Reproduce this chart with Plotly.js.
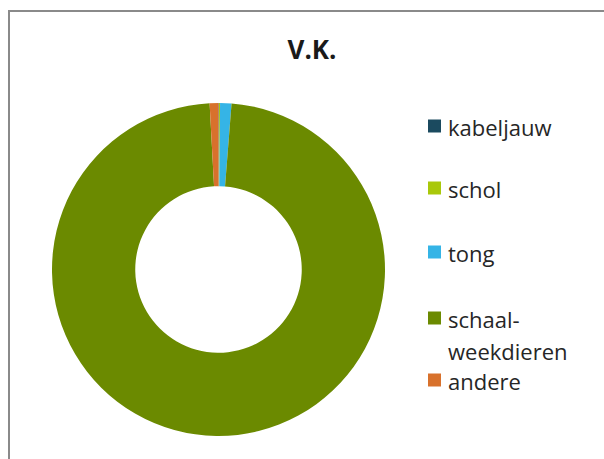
<!DOCTYPE html>
<html>
<head>
<meta charset="utf-8">
<script src="https://cdn.plot.ly/plotly-3.0.1.min.js"></script>
<style>html,body{margin:0;padding:0;background:#fff;}#chart{width:604px;height:459px;}</style>
</head>
<body>
<div id="chart"></div>
<script>
// Data (share of catch, %)
const categories = ["kabeljauw", "schol", "tong", "schaal-weekdieren", "andere"];
const values = [0.05, 0.1, 1.1, 97.9, 0.85];
const colors = ["#1b4a5f", "#a9c80a", "#35b4e6", "#6b8a00", "#d8712c"];
const chartTitle = "V.K.";

const W = 604, H = 459;
const px = x => x / W;
const py = y => 1 - y / H;

const font = "'Open Sans', 'Noto Sans', sans-serif";

const trace = {
  type: "pie",
  labels: categories,
  values: values,
  marker: { colors: colors, line: { width: 0 } },
  hole: 0.5,
  sort: false,
  direction: "clockwise",
  rotation: 0,
  textinfo: "none",
  hoverinfo: "label+value",
  showlegend: false,
  domain: { x: [px(52), px(385)], y: [py(436), py(103)] }
};

// Manual legend (Excel-style spacing), built from the category arrays
const legendRows = [[127], [189], [253], [319, 351], [381]];
const annotations = [];
const shapes = [
  { type: "rect", xref: "paper", yref: "paper", x0: px(9), x1: 1.05, y0: -0.05, y1: py(11),
    line: { color: "#8a8a8a", width: 2 }, fillcolor: "rgba(0,0,0,0)" }
];
categories.forEach((c, i) => {
  const parts = c.includes("-") ? [c.slice(0, c.indexOf("-") + 1), c.slice(c.indexOf("-") + 1)] : [c];
  const rows = legendRows[i];
  parts.forEach((p, j) => {
    annotations.push({
      xref: "paper", yref: "paper", x: px(446), y: py(rows[j]),
      xanchor: "left", yanchor: "middle", showarrow: false, text: p,
      font: { family: font, size: 22, color: "#262626" }
    });
  });
  const yc = rows[0] - 1;
  shapes.push({ type: "rect", xref: "paper", yref: "paper",
    x0: px(428), x1: px(441), y0: py(yc + 6.5), y1: py(yc - 6.5),
    fillcolor: colors[i], line: { width: 0 } });
});

const layout = {
  width: W, height: H,
  margin: { l: 0, r: 0, t: 0, b: 0 },
  paper_bgcolor: "#ffffff",
  title: { text: "<b>" + chartTitle + "</b>", x: px(312), xanchor: "center", y: py(50), yanchor: "middle",
    font: { family: font, size: 26, color: "#1a1a1a" } },
  showlegend: false,
  annotations: annotations,
  shapes: shapes
};

Plotly.newPlot("chart", [trace], layout, { displayModeBar: false, staticPlot: true });
</script>
</body>
</html>
